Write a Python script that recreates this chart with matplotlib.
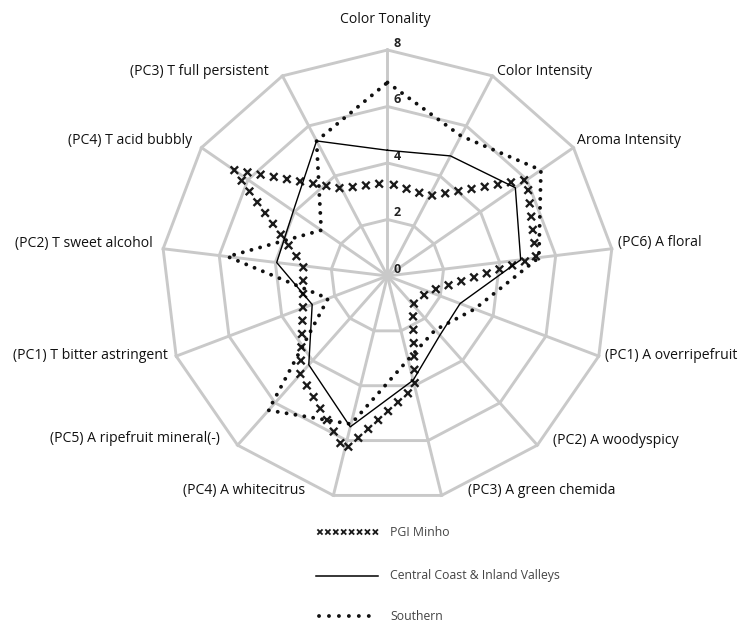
import numpy as np
import matplotlib
matplotlib.use('Agg')
import matplotlib.pyplot as plt
import matplotlib.patheffects as pe
from matplotlib.lines import Line2D
from matplotlib.path import Path
from matplotlib.transforms import IdentityTransform

# axes of the radar, clockwise from the top
categories = ['Color Tonality', 'Color Intensity', 'Aroma Intensity', '(PC6) A floral',
              '(PC1) A overripefruit', '(PC2) A woodyspicy', '(PC3) A green chemida',
              '(PC4) A whitecitrus', '(PC5) A ripefruit mineral(-)',
              '(PC1) T bitter astringent', '(PC2) T sweet alcohol',
              '(PC4) T acid bubbly', '(PC3) T full persistent']

pgi_minho = [3.3, 3.2, 6.0, 5.3, 1.55, 1.35, 4.05, 6.35, 4.65, 3.2, 3.0, 6.6, 3.5]
central_coast = [4.45, 4.8, 5.5, 4.75, 2.75, 2.8, 3.8, 5.5, 4.2, 2.85, 3.95, 4.05, 5.4]
southern = [6.85, 5.6, 6.6, 5.4, 3.3, 2.55, 3.05, 5.4, 6.35, 2.25, 5.7, 2.85, 5.4]

series_names = ['PGI Minho', 'Central Coast & Inland Valleys', 'Southern']
r_ticks = [0, 2, 4, 6, 8]

plt.rcParams['font.family'] = ['Open Sans', 'DejaVu Sans']

GRID = '#c9c9c9'


class CrossStroke(pe.AbstractPathEffect):
    """upright x marks every `spacing` points along the line (line itself not drawn)"""
    def __init__(self, spacing=10.0, half=2.0, lw=1.5):
        super().__init__()
        self.spacing = spacing
        self.half = half
        self.lw = lw

    def draw_path(self, renderer, gc, tpath, affine, rgbFace=None):
        gc0 = renderer.new_gc()
        gc0.copy_properties(gc)
        gc0.set_linewidth(self.lw)
        gc0.set_dashes(0, None)
        step = renderer.points_to_pixels(self.spacing)
        h = renderer.points_to_pixels(self.half)
        verts, codes = [], []
        for p in affine.transform_path(tpath).to_polygons(closed_only=False):
            if len(p) < 2:
                continue
            s = np.concatenate([[0.0], np.cumsum(np.hypot(*np.diff(p, axis=0).T))])
            pos = np.arange(step / 2, s[-1], step)
            xs = np.interp(pos, s, p[:, 0])
            ys = np.interp(pos, s, p[:, 1])
            for x, y in zip(xs, ys):
                verts += [(x - h, y - h), (x + h, y + h), (x - h, y + h), (x + h, y - h)]
                codes += [Path.MOVETO, Path.LINETO, Path.MOVETO, Path.LINETO]
        if verts:
            renderer.draw_path(gc0, Path(verts, codes), IdentityTransform())
        gc0.restore()


fig = plt.figure(figsize=(7.4, 6.24), dpi=100)
ax = fig.add_axes([0.2182, 0.1955, 0.6108, 0.7244], projection='polar')
ax.set_theta_zero_location('N')
ax.set_theta_direction(-1)
ax.set_ylim(0, 8)
ax.set_xticks([])
ax.set_yticks([])
ax.grid(False)
ax.spines['polar'].set_visible(False)
ax.patch.set_visible(False)

n = len(categories)
theta = np.arange(n) * 2 * np.pi / n
closed = np.append(theta, theta[0])

# polygon grid
for r in r_ticks[1:]:
    ax.plot(closed, [r] * (n + 1), color=GRID, lw=2.1, zorder=1, clip_on=False)
for t in theta:
    ax.plot([t, t], [0, r_ticks[-1]], color=GRID, lw=2.1, zorder=1, clip_on=False)

# series
ax.plot(closed, pgi_minho + pgi_minho[:1], color='#1a1a1a', zorder=3, clip_on=False,
        path_effects=[CrossStroke(spacing=9.6, half=2.1, lw=1.7)])
ax.plot(closed, central_coast + central_coast[:1], color='black', lw=1.0, zorder=4,
        clip_on=False)
ax.plot(closed, southern + southern[:1], color='#111111', lw=2.8, zorder=3,
        linestyle=(0, (0.01, 2.3)), dash_capstyle='round', clip_on=False)

# radial values along the top spoke
for r in r_ticks:
    ax.annotate(str(r), xy=(0, r), xytext=(9.5, 6.5), textcoords='offset pixels',
                ha='center', va='center', fontsize=9, fontweight='bold', color='#222222')

# category labels
offsets = [(-2.5, 30, 'center'), (4.5, 4, 'left'), (3.5, 7.5, 'left'), (6.5, 6, 'left'),
           (6, 1, 'left'), (16, 5, 'left'), (26, 5, 'left'), (-28, 5, 'right'),
           (-17.5, 7, 'right'), (-8, 1, 'right'), (-10, 5.5, 'right'), (-9, 7.5, 'right'),
           (-14, 4.3, 'right')]
for t, lab, (dx, dy, ha) in zip(theta, categories, offsets):
    ax.annotate(lab, xy=(t, r_ticks[-1]), xytext=(dx, dy), textcoords='offset pixels',
                ha=ha, va='center', fontsize=10.1, color='#111111')

# legend drawn by hand below the chart
x0, x1, xt = 316 / 740, 378 / 740, 390 / 740
rows = [1 - 532 / 624, 1 - 576 / 624, 1 - 616 / 624]
fig.add_artist(Line2D([x0, x1], [rows[0], rows[0]], transform=fig.transFigure,
                      color='#1a1a1a',
                      path_effects=[CrossStroke(spacing=5.7, half=1.4, lw=1.3)]))
fig.add_artist(Line2D([x0, x1], [rows[1], rows[1]], transform=fig.transFigure,
                      color='black', lw=1.1))
fig.add_artist(Line2D([x0 + 0.004, x1], [rows[2], rows[2]], transform=fig.transFigure,
                      color='#111111', lw=2.8, linestyle=(0, (0.01, 2.55)),
                      dash_capstyle='round'))
for y, name in zip(rows, series_names):
    fig.text(xt, y, name, ha='left', va='center', fontsize=8.8, color='#444444')

fig.savefig('out.png', dpi=100)
